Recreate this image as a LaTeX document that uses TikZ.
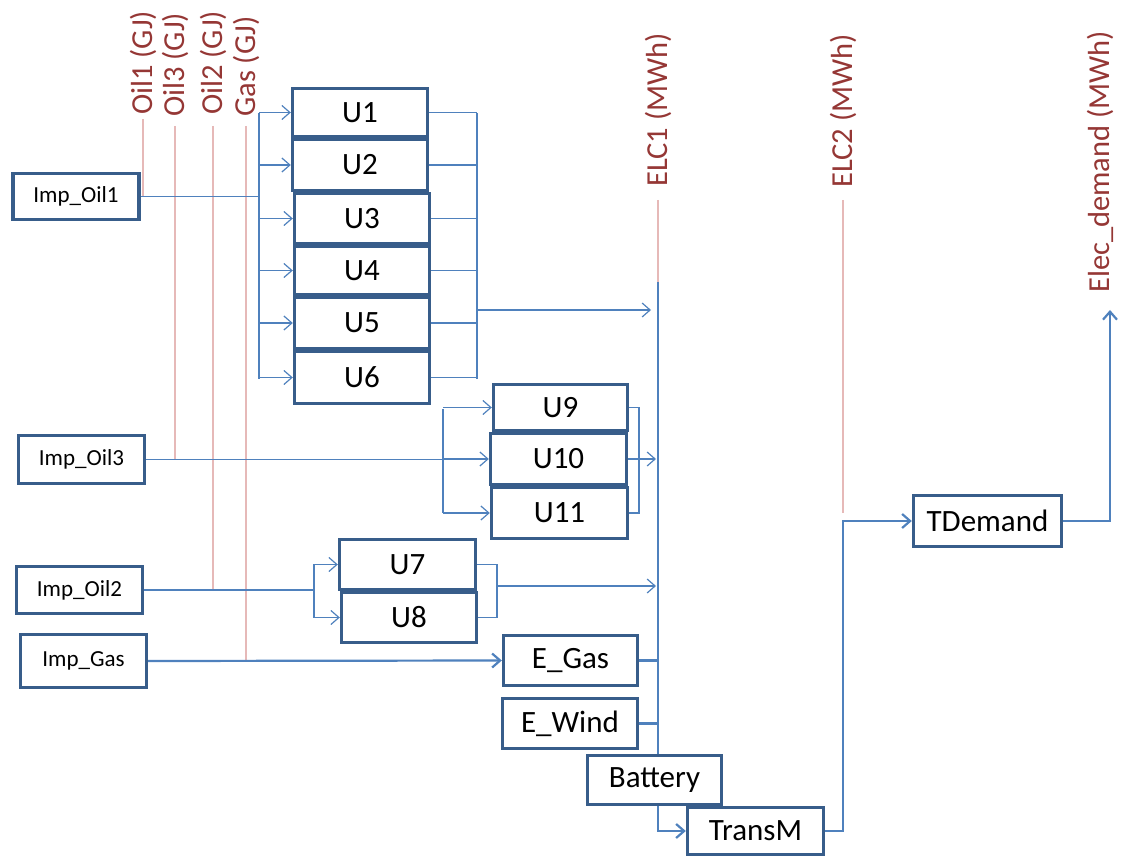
\documentclass[tikz,border=0pt]{standalone}
\usepackage{fontspec}
\setmainfont{Carlito}
\usetikzlibrary{arrows.meta}
\definecolor{boxc}{RGB}{56,93,138}
\definecolor{conn}{RGB}{79,129,189}
\definecolor{pinkc}{RGB}{230,185,184}
\definecolor{labc}{RGB}{149,55,53}
\begin{document}
\begin{tikzpicture}[x=1pt,y=-1pt,
  box/.style={draw=boxc, line width=3.4pt, fill=white, inner sep=0pt, rectangle, font=\fontsize{31}{36}\selectfont},
  imp/.style={box, font=\fontsize{23}{27}\selectfont},
  thinc/.style={draw=conn, line width=1.2pt},
  thickc/.style={draw=conn, line width=2.2pt},
  arr/.style={-{Straight Barb[length=8pt,width=14pt]}},
  pk/.style={draw=pinkc, line width=2pt},
  lab/.style={rotate=90, anchor=west, text=labc, inner sep=0pt, font=\fontsize{30.5}{36}\selectfont}]

\useasboundingbox (0,0) rectangle (1122,858);

% ---------- boxes ----------
\node[imp, minimum width=126pt, minimum height=46pt] (io1) at (76,196.5) {Imp\_Oil1};
\node[imp, minimum width=126pt, minimum height=48pt] (io3) at (81.5,459.5) {Imp\_Oil3};
\node[imp, minimum width=126pt, minimum height=47pt] (io2) at (79.5,590) {Imp\_Oil2};
\node[imp, minimum width=126pt, minimum height=53pt] (ig) at (83.5,661) {Imp\_Gas};

\node[box, minimum width=135pt, minimum height=48pt] (U1) at (360,112.5) {U1};
\node[box, minimum width=135pt, minimum height=51pt] (U2) at (360,165) {U2};
\node[box, minimum width=135pt, minimum height=50pt] (U3) at (362,218.5) {U3};
\node[box, minimum width=135pt, minimum height=48pt] (U4) at (362,270.5) {U4};
\node[box, minimum width=135pt, minimum height=51pt] (U5) at (362,323) {U5};
\node[box, minimum width=135pt, minimum height=52pt] (U6) at (362,377.5) {U6};

\node[box, minimum width=134pt, minimum height=46pt] (U9) at (560.5,407.5) {U9};
\node[box, minimum width=136pt, minimum height=51pt] (U10) at (558.5,459) {U10};
\node[box, minimum width=136pt, minimum height=51pt] (U11) at (559.5,513) {U11};

\node[box, minimum width=136pt, minimum height=50pt] (U7) at (407.5,564.5) {U7};
\node[box, minimum width=135pt, minimum height=50pt] (U8) at (409,617.5) {U8};

\node[box, minimum width=134pt, minimum height=50pt] (eg) at (570.5,660.5) {E\_Gas};
\node[box, minimum width=135pt, minimum height=50pt] (ew) at (570,723.5) {E\_Wind};
\node[box, minimum width=134pt, minimum height=49pt] (bat) at (654.5,780) {Battery};
\node[box, minimum width=136pt, minimum height=47pt] (tm) at (755.5,831) {TransM};
\node[box, minimum width=148pt, minimum height=51pt] (td) at (987.5,521) {TDemand};

% ---------- commodity labels ----------
\node[lab] (lo1) at (143,115) {Oil1 (GJ)};
\node[lab] (lo3) at (175,117) {Oil3 (GJ)};
\node[lab] (lo2) at (213,115) {Oil2 (GJ)};
\node[lab] (lg)  at (246,117) {Gas (GJ)};
\node[lab] (le1) at (658,187) {ELC1 (MWh)};
\node[lab] (le2) at (843,188) {ELC2 (MWh)};
\node[lab] (led) at (1100,293) {Elec\_demand (MWh)};

% ---------- named junctions ----------
\coordinate (b1t) at (259,113);  \coordinate (b1b) at (259,379);
\coordinate (r1t) at (477,113);  \coordinate (r1b) at (477,379);
\coordinate (r1m) at (477,310);
\coordinate (b3t) at (443,409);  \coordinate (b3b) at (443,513);
\coordinate (r3t) at (639,409);  \coordinate (r3b) at (639,513);
\coordinate (b2t) at (314,564);  \coordinate (b2b) at (314,618);
\coordinate (r2t) at (497,565);  \coordinate (r2b) at (497,617);
\coordinate (r2m) at (497,586);
\coordinate (e1top) at (658,282);
\coordinate (e2j) at (843,521);
\coordinate (e2pk) at (843,513);
\coordinate (edtip) at (1110,310);

% ---------- pink commodity lines ----------
\draw[pk] ([yshift=-4pt]lo1.west) -- (lo1.west |- io1.east);
\draw[pk] ([yshift=-9pt]lo3.west) -- (lo3.west |- io3.east);
\draw[pk] ([yshift=-11pt]lo2.west) -- (lo2.west |- io2.east);
\draw[pk] ([yshift=-9pt]lg.west) -- (lg.west |- ig.east);
\draw[pk] ([yshift=-13pt]le1.west) -- (le1.west |- e1top);
\draw[pk] ([yshift=-12pt]le2.west) -- (le2.west |- e2pk);

% ---------- Oil1 group ----------
\draw[thinc] (io1.east) -- (io1.east -| b1t);
\draw[thinc] (b1t) -- (b1b);
\foreach \u in {U1,U2,U3,U4,U5,U6}{
  \draw[thinc,arr] (b1t |- \u.west) -- (\u.west);
  \draw[thinc] (\u.east) -- (r1t |- \u.east);
}
\draw[thinc] (r1t) -- (r1b);
\draw[thinc,arr] (r1m) -- ([xshift=-7pt]r1m -| e1top);

% ---------- Oil3 group ----------
\draw[thinc] (io3.east) -- (io3.east -| b3t);
\draw[thinc] (b3t) -- (b3b);
\foreach \u in {U9,U10,U11}{
  \draw[thinc,arr] (b3t |- \u.west) -- (\u.west);
}
\draw[thinc] (U9.east) -- (r3t |- U9.east) -- (r3b |- U11.east) -- (U11.east);
\draw[thinc,arr] (U10.east) -- ([xshift=-2pt]U10.east -| e1top);

% ---------- Oil2 group ----------
\draw[thinc] (io2.east) -- (io2.east -| b2t);
\draw[thinc] (b2t) -- (b2b);
\draw[thinc,arr] (b2t |- U7.west) -- (U7.west);
\draw[thinc,arr] (b2t |- U8.west) -- (U8.west);
\draw[thinc] (U7.east) -- (r2t |- U7.east) -- (r2b |- U8.east) -- (U8.east);
\draw[thinc,arr] (r2m) -- ([xshift=-2pt]r2m -| e1top);

% ---------- Gas / electricity ----------
\draw[thickc,arr] (ig.east) -- (eg.west);
\draw[thickc] (eg.east) -- (eg.east -| e1top);
\draw[thickc] (ew.east) -- (ew.east -| e1top);
\draw[thickc] (e1top) -- (e1top |- bat.north);
\draw[thickc,arr] (e1top |- bat.south) -- (e1top |- tm.west) -- (tm.west);
\draw[thickc,arr] (tm.east) -| (e2j) -- (td.west);
\draw[thickc,arr] (td.east) -| (edtip);
\end{tikzpicture}
\end{document}
